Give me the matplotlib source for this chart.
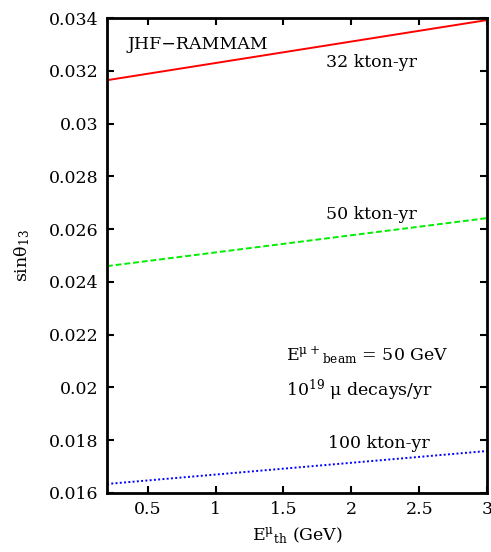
import numpy as np
import matplotlib.pyplot as plt

plt.rcParams['font.family'] = ['DejaVu Serif']
plt.rcParams['mathtext.fontset'] = 'dejavuserif'

# threshold energy (GeV) and sin(theta13) limits
e_th = [0.2, 3.0]
s32 = [0.03165, 0.03393]
s50 = [0.02460, 0.02642]
s100 = [0.01634, 0.01759]

xticks = [0.5, 1, 1.5, 2, 2.5, 3]
yticks = [0.016, 0.018, 0.02, 0.022, 0.024, 0.026, 0.028, 0.03, 0.032, 0.034]
ylabels = ['0.016', '0.018', '0.02', '0.022', '0.024', '0.026', '0.028', '0.03', '0.032', '0.034']

fig = plt.figure(figsize=(4.91, 5.52), dpi=100)
ax = fig.add_axes([0.218, 0.107, 0.774, 0.86])

ax.plot(e_th, s32, color='#ff0000', lw=1.4, ls='-')
ax.plot(e_th, s50, color='#00ee00', lw=1.4, ls=(0, (3, 1.5)))
ax.plot(e_th, s100, color='#0000ff', lw=1.4, ls=(0, (1, 1.2)))

ax.set_xlim(0.2, 3)
ax.set_ylim(0.016, 0.034)
ax.set_xticks(xticks)
ax.set_xticklabels(['0.5', '1', '1.5', '2', '2.5', '3'])
ax.set_yticks(yticks)
ax.set_yticklabels(ylabels)
ax.tick_params(direction='in', top=True, right=True, length=5, width=1.5,
               labelsize=12.5, pad=6)
for sp in ax.spines.values():
    sp.set_linewidth(2)

ax.set_xlabel(r'E$^{\mathrm{\mu}}$$_{\rm th}$ (GeV)', fontsize=12.5, labelpad=5)
ax.set_ylabel(r'sin$\mathrm{\theta}_{13}$', fontsize=12.5, labelpad=12)

ax.text(0.35, 0.0330, 'JHF\u2212RAMMAM', fontsize=12.5, va='center')
ax.text(2.15, 0.03233, '32 kton-yr', fontsize=12.5, ha='center', va='center')
ax.text(2.15, 0.02654, '50 kton-yr', fontsize=12.5, ha='center', va='center')
ax.text(2.12, 0.02123, r'E$^{\mathrm{\mu+}}$$_{\rm beam}$ = 50 GeV', fontsize=12.5, ha='center', va='center')
ax.text(2.06, 0.0199, '10$^{19}$ \u03bc decays/yr', fontsize=12.5, ha='center', va='center')
ax.text(2.20, 0.01786, '100 kton-yr', fontsize=12.5, ha='center', va='center')

plt.savefig('out.png', dpi=100)
